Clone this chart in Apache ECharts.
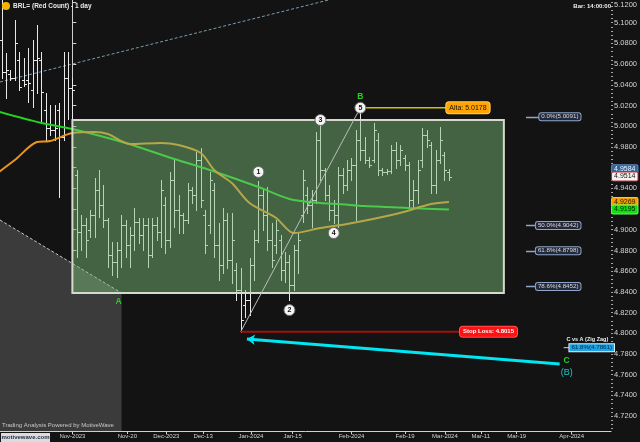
<!DOCTYPE html>
<html><head><meta charset="utf-8">
<script src="https://cdn.jsdelivr.net/npm/echarts@6/dist/echarts.min.js"></script>
<style>html,body{margin:0;padding:0;background:#131313;}#c{width:640px;height:442px;}</style>
</head><body><div id="c"></div>
<script>
// ---------------- DATA ----------------
const FIRST_BAR = -16; // bar index of first visible bar (index 0 = 1 Nov 2023)
const opens = [
5.0833,5.0524,5.0504,5.0466,5.0639,5.0446,5.0446,5.0350,5.0639,5.0639,
5.0156,4.9983,4.9963,5.0156,4.9896,5.0466,5.0369,4.9529,4.8978,4.9045,
4.8997,4.9142,4.9383,4.9239,4.9094,4.8756,4.8688,4.8804,4.9045,4.8852,
4.8949,4.9074,4.8949,4.9045,4.8756,4.9045,4.8978,4.9239,4.8900,4.9480,
4.9190,4.9142,4.9094,4.9383,4.9335,4.9673,4.9142,4.9045,4.9383,4.8852,
4.8659,4.9094,4.8707,4.8611,4.8418,4.8273,4.8321,4.8659,4.8900,4.9335,
4.9142,4.8900,4.8852,4.8900,4.8611,4.8688,4.8466,4.8804,4.9142,4.9335,
4.9239,4.9287,4.9867,4.9577,4.9335,4.9190,4.9142,4.9529,4.9432,4.9577,
4.9625,4.9867,4.9770,4.9673,4.9673,4.9867,4.9577,4.9557,4.9567,4.9770,
4.9673,4.9693,4.9625,4.9287,4.9383,4.9673,4.9915,4.9818,4.9432,4.9673,
4.9722,4.9560];
const highs = [
5.1296,5.0707,5.0543,5.1026,5.0717,5.0659,5.0755,5.0833,5.0977,5.0717,
5.0321,5.0205,5.0205,5.0224,5.0717,5.0717,5.0466,4.9577,4.9142,4.9113,
4.9190,4.9500,4.9577,4.9432,4.9113,4.8881,4.8881,4.9142,4.9094,4.9026,
4.9210,4.9113,4.9113,4.9113,4.9113,4.9123,4.9480,4.9316,4.9557,4.9673,
4.9335,4.9161,4.9451,4.9413,4.9751,4.9789,4.9190,4.9557,4.9451,4.9065,
4.9210,4.9161,4.9161,4.8678,4.8630,4.8418,4.8727,4.8997,4.9471,4.9383,
4.9413,4.9065,4.9094,4.8949,4.8785,4.8756,4.8852,4.8968,4.9577,4.9413,
4.9383,4.9944,5.0031,4.9596,4.9432,4.9287,4.9606,4.9596,4.9673,4.9693,
4.9963,5.0178,4.9896,4.9702,5.0031,4.9934,4.9596,4.9587,4.9818,4.9847,
4.9818,4.9722,4.9654,4.9480,4.9673,4.9983,4.9963,4.9847,4.9770,4.9992,
4.9751,4.9584];
const lows = [
5.0466,5.0272,5.0446,5.0446,5.0350,5.0388,5.0234,5.0185,5.0321,5.0040,
4.9867,4.9915,4.9867,4.9316,4.9867,5.0069,5.0060,4.8736,4.8804,4.8736,
4.8930,4.8930,4.9123,4.9026,4.8640,4.8563,4.8543,4.8640,4.8736,4.8640,
4.8804,4.8872,4.8804,4.8640,4.8736,4.8900,4.8833,4.8775,4.8833,4.9026,
4.8968,4.8968,4.9065,4.9258,4.9190,4.9219,4.8775,4.8968,4.8736,4.8514,
4.8582,4.8630,4.8485,4.8321,4.8015,4.8157,4.8176,4.8514,4.8881,4.8997,
4.8804,4.8640,4.8775,4.8514,4.8495,4.8321,4.8418,4.8582,4.9074,4.9161,
4.9026,4.9258,4.9480,4.9287,4.9094,4.9065,4.9026,4.9355,4.9383,4.9480,
4.9094,4.9673,4.9644,4.9606,4.9654,4.9529,4.9529,4.9538,4.9548,4.9596,
4.9625,4.9577,4.9219,4.9219,4.9258,4.9606,4.9799,4.9355,4.9355,4.9644,
4.9480,4.9480];
const closes = [
5.0524,5.0543,5.0466,5.0804,5.0379,5.0408,5.0417,5.0639,5.0659,5.0330,
4.9983,4.9963,4.9983,4.9896,5.0466,5.0369,5.0350,4.8978,4.9045,4.8900,
4.9142,4.9383,4.9239,4.9094,4.8756,4.8688,4.8804,4.9045,4.8852,4.8949,
4.9074,4.8949,4.9045,4.8756,4.9045,4.8978,4.9383,4.8900,4.9480,4.9190,
4.9142,4.9094,4.9383,4.9335,4.9673,4.9287,4.8852,4.9480,4.8852,4.8659,
4.9094,4.8707,4.8900,4.8418,4.8128,4.8321,4.8659,4.8900,4.9335,4.9142,
4.8900,4.8707,4.8997,4.8611,4.8688,4.8466,4.8804,4.8900,4.9480,4.9239,
4.9287,4.9867,4.9577,4.9335,4.9190,4.9142,4.9529,4.9432,4.9577,4.9625,
4.9867,4.9770,4.9673,4.9625,4.9963,4.9577,4.9557,4.9567,4.9770,4.9673,
4.9770,4.9625,4.9287,4.9383,4.9577,4.9915,4.9867,4.9432,4.9673,4.9867,
4.9577,4.9514];

// moving averages (bar index, value)
const maSlowIdx = [-17, -7, 0, 12, 23, 31, 42, 49, 56, 60, 66, 71, 76, 85];
const maSlow    = [5.0145, 5.0031, 4.9973, 4.9838, 4.9683, 4.9577, 4.9413, 4.9297, 4.9258, 4.9248, 4.9229, 4.9219, 4.9210, 4.9195];
const maFastIdx = [-17, -13, -8, -5, 0, 5, 8, 13, 20, 24, 29, 32, 36, 40, 46, 50, 56, 62, 73, 81, 85];
const maFast    = [4.9545, 4.9673, 4.9847, 4.9857, 4.9934, 4.9944, 4.9925, 4.9828, 4.9838, 4.9818, 4.9741, 4.9577, 4.9451, 4.9258, 4.9113, 4.8968, 4.9016, 4.9055, 4.9152, 4.9248, 4.9269];

// axis ticks
const xTickPos    = [0, 12.4, 21.2, 29.5, 40.3, 49.7, 63.0, 75.1, 84.1, 92.2, 100.3, 112.7];
const xTickLabels = ['Nov-2023','Nov-20','Dec-2023','Dec-13','Jan-2024','Jan-15','Feb-2024','Feb-19','Mar-2024','Mar-11','Mar-19','Apr-2024'];
const yTickValues = [4.72,4.74,4.76,4.78,4.80,4.82,4.84,4.86,4.88,4.90,4.92,4.94,4.96,4.98,5.00,5.02,5.04,5.06,5.08,5.10,5.12];

// wave count
const waveLabels = ['1','2','3','4','5'];
const waveIdx    = [42, 49, 56, 59, 65];
const wavePrice  = [4.9558, 4.8224, 5.0060, 4.8968, 5.0178];
const waveStartIdx = 38, waveStartPrice = 4.8015;

// range box, shaded zone, channel line
const boxIdx = [0, 97.4];         const boxPrice = [5.0060, 4.8389];
const zoneIdx = [-16.34, 11.1, 11.1, -16.34]; const zonePrice = [4.9094, 4.8389, 4.7056, 4.7056];
const channelIdx = [-16.34, 70];  const channelPrice = [5.0427, 5.1349];

// levels
const fibNames  = ['0.0%', '50.0%', '61.8%', '78.6%'];
const fibValues = [5.0091, 4.9042, 4.8798, 4.8452];
const stopLoss = 4.8015;
const alta = 5.0178;
const zigzagName = 'C vs A (Zig Zag)'; const zigzagPct = '61.8%'; const zigzagValue = 4.7861;
const arrowIdx = [110.0, 39.4];   const arrowPrice = [4.7703, 4.7944];
const axisTags = [4.9584, 4.9514, 4.9269, 4.9195];

// ---------------- CHART ----------------
const FONT = '"Liberation Sans", Arial, sans-serif';
const X_MIN = -16.34, X_MAX = 121.6, Y_MIN = 4.7056, Y_MAX = 5.1219;
const minorTicks = [];
for (let k = 0; k <= 103; k++) minorTicks.push(+(4.708 + k * 0.004).toFixed(3));

const bars = opens.map((o, k) => [k + FIRST_BAR, o, highs[k], lows[k], closes[k]]);

function ohlcItem(params, api) {
  const t = api.value(0);
  const pO = api.coord([t, api.value(1)]);
  const pH = api.coord([t, api.value(2)]);
  const pL = api.coord([t, api.value(3)]);
  const pC = api.coord([t, api.value(4)]);
  const x = Math.round(pO[0]) + 0.5;
  const yo = Math.round(pO[1]) + 0.5, yc = Math.round(pC[1]) + 0.5;
  const st = { stroke: '#e8e8e8', lineWidth: 1 };
  return { type: 'group', children: [
    { type: 'line', shape: { x1: x, y1: Math.round(pH[1]), x2: x, y2: Math.round(pL[1]) + 1 }, style: st },
    { type: 'line', shape: { x1: x - 2.5, y1: yo, x2: x, y2: yo }, style: st },
    { type: 'line', shape: { x1: x, y1: yc, x2: x + 2.5, y2: yc }, style: st }
  ]};
}

function lineSeries(data, color, width, z, type) {
  return { type: 'line', data: data, z: z, symbol: 'none', silent: true, clip: true,
    lineStyle: { color: color, width: width, type: type || 'solid' } };
}

const FIB_LINE_START = 102.4, FIB_LABEL_RIGHT = 114.7;
const STOP_LABEL_IDX = 87.5, ALTA_LABEL_IDX = 84.4;
const ZZ_LINE_START = 110.9, ZZ_LABEL_START = 112.2;

const option = {
  backgroundColor: '#131313',
  animation: false,
  grid: { left: 0, right: 26, top: 0, bottom: 11, containLabel: false },
  xAxis: {
    type: 'value', min: X_MIN, max: X_MAX, splitLine: { show: false },
    axisLine: { show: true, onZero: false, lineStyle: { color: '#cfcfcf', width: 1 } },
    axisTick: { show: true, customValues: xTickPos, length: 3, lineStyle: { color: '#cfcfcf' } },
    axisLabel: { show: true, customValues: xTickPos, margin: 2, color: '#d4d4d4', fontSize: 6, fontFamily: FONT,
      formatter: v => { let b = 0; xTickPos.forEach((p, k) => { if (Math.abs(p - v) < Math.abs(xTickPos[b] - v)) b = k; }); return xTickLabels[b]; } }
  },
  yAxis: [
    { type: 'value', position: 'right', min: Y_MIN, max: Y_MAX, splitLine: { show: false },
      axisLine: { show: true, lineStyle: { color: '#cfcfcf', width: 1 } },
      axisTick: { show: true, customValues: yTickValues, length: 4, lineStyle: { color: '#cfcfcf' } },
      axisLabel: { show: true, customValues: yTickValues, margin: 3, color: '#d4d4d4', fontSize: 7.5, fontFamily: FONT,
        formatter: v => Math.abs(v - 5.12) < 1e-6 ? '{top|' + v.toFixed(4) + '}' : v.toFixed(4),
        rich: { top: { padding: [6, 0, 0, 0], color: '#d4d4d4', fontSize: 7.5, fontFamily: FONT } } } },
    { type: 'value', position: 'right', min: Y_MIN, max: Y_MAX, splitLine: { show: false },
      axisLine: { show: false },
      axisTick: { show: true, customValues: minorTicks, length: 2, lineStyle: { color: '#a8a8a8' } },
      axisLabel: { show: false } }
  ],
  graphic: [
    { type: 'circle', shape: { cx: 6, cy: 6, r: 4 }, style: { fill: '#f5b400' }, z: 100 },
    { type: 'text', x: 13, y: 6, z: 100, style: { text: 'BRL= (Red Count) - 1 day', fill: '#e8e8e8', font: 'bold 6.5px ' + FONT, verticalAlign: 'middle', textVerticalAlign: 'middle' } },
    { type: 'text', x: 611, y: 6, z: 100, style: { text: 'Bar: 14:00:00', fill: '#f0f0f0', font: 'bold 6px ' + FONT, align: 'right', textAlign: 'right', verticalAlign: 'middle', textVerticalAlign: 'middle' } },
    { type: 'text', x: 2, y: 425, z: 100, style: { text: 'Trading Analysis Powered by MotiveWave', fill: '#c8c8c8', font: '6px ' + FONT, verticalAlign: 'middle', textVerticalAlign: 'middle' } },
    { type: 'rect', shape: { x: 1, y: 433, width: 49, height: 9 }, style: { fill: '#dcdcdc' }, z: 100 },
    { type: 'text', x: 25.5, y: 437.5, z: 101, style: { text: 'motivewave.com', fill: '#1c2c48', font: 'bold 6px ' + FONT, align: 'center', textAlign: 'center', verticalAlign: 'middle', textVerticalAlign: 'middle' } }
  ],
  series: [
    // shaded zone
    { type: 'custom', z: 1, silent: true, clip: true, data: [[zoneIdx[0], zonePrice[0]]],
      renderItem: (p, api) => {
        const pts = zoneIdx.map((t, k) => api.coord([t, zonePrice[k]]));
        return { type: 'group', children: [
          { type: 'polygon', shape: { points: pts }, style: { fill: '#3b3b3b' } },
          { type: 'line', shape: { x1: pts[0][0], y1: pts[0][1], x2: pts[1][0], y2: pts[1][1] }, style: { stroke: '#c4c4c4', lineWidth: 1, lineDash: [3, 2] } }
        ]};
      } },
    lineSeries(channelIdx.map((t, k) => [t, channelPrice[k]]), '#7d9cac', 1, 1, [3, 2]),
    // OHLC bars
    { type: 'custom', z: 2, silent: true, clip: true, data: bars, renderItem: ohlcItem, encode: { x: 0, y: [1, 2, 3, 4] } },
    // moving averages
    Object.assign(lineSeries(maSlowIdx.map((t, k) => [t, maSlow[k]]), '#22d422', 2, 3), { smooth: 0.3 }),
    Object.assign(lineSeries(maFastIdx.map((t, k) => [t, maFast[k]]), '#ea941e', 2, 3), { smooth: 0.3 }),
    // range box overlay
    { type: 'custom', z: 4, silent: true, clip: false, data: [[boxIdx[0], boxPrice[0]]],
      renderItem: (p, api) => {
        const a = api.coord([boxIdx[0], boxPrice[0]]), b = api.coord([boxIdx[1], boxPrice[1]]);
        return { type: 'rect', shape: { x: a[0], y: a[1], width: b[0] - a[0], height: b[1] - a[1] },
          style: { fill: 'rgba(122,190,122,0.47)', stroke: '#d6dacd', lineWidth: 2 } };
      } },
    // wave line, stop-loss line, alta line
    lineSeries([[waveStartIdx, waveStartPrice], [waveIdx[4], wavePrice[4]]], '#bdbdbd', 1, 5),
    lineSeries([[waveStartIdx, stopLoss], [STOP_LABEL_IDX, stopLoss]], '#a31010', 2, 5),
    lineSeries([[waveIdx[4], alta], [ALTA_LABEL_IDX, alta]], '#cfc300', 1.5, 5),
    // cyan arrow
    { type: 'lines', coordinateSystem: 'cartesian2d', z: 6, silent: true, symbol: ['none', 'arrow'], symbolSize: 8,
      lineStyle: { color: '#00e6f2', width: 3, opacity: 1 },
      data: [{ coords: [[arrowIdx[0], arrowPrice[0]], [arrowIdx[1], arrowPrice[1]]] }] },
    // fib levels
    { type: 'custom', z: 6, silent: true, clip: false, data: fibValues.map((v, k) => [FIB_LINE_START, v, k]),
      renderItem: (p, api) => {
        const k = api.value(2), v = api.value(1);
        const a = api.coord([FIB_LINE_START, v]), b = api.coord([FIB_LABEL_RIGHT, v]);
        return { type: 'group', children: [
          { type: 'line', shape: { x1: a[0], y1: Math.round(a[1]) + 0.5, x2: b[0] - 20, y2: Math.round(a[1]) + 0.5 }, style: { stroke: '#8ea6c8', lineWidth: 1.5 } },
          { type: 'text', x: b[0], y: a[1], style: { text: fibNames[k] + '(' + fibValues[k].toFixed(4) + ')', fill: '#dcdcdc',
            fontSize: 6.2, fontFamily: FONT, align: 'right', verticalAlign: 'middle', backgroundColor: '#23283a',
            borderColor: '#8ea6c8', borderWidth: 1, borderRadius: 2, padding: [1, 2, 0, 2] } }
        ]};
      } },
    // C vs A zig zag target
    { type: 'custom', z: 6, silent: true, clip: false, data: [[ZZ_LABEL_START, zigzagValue]],
      renderItem: (p, api) => {
        const a = api.coord([ZZ_LINE_START, zigzagValue]), b = api.coord([ZZ_LABEL_START, zigzagValue]);
        return { type: 'group', children: [
          { type: 'line', shape: { x1: a[0], y1: a[1], x2: b[0], y2: b[1] }, style: { stroke: '#cfcfcf', lineWidth: 1 } },
          { type: 'text', x: b[0] - 3, y: b[1] - 8, style: { text: zigzagName, fill: '#f0f0f0', fontSize: 5.5, fontWeight: 'bold', fontFamily: FONT, align: 'left', verticalAlign: 'middle' } },
          { type: 'text', x: b[0], y: b[1], style: { text: zigzagPct + '(' + zigzagValue.toFixed(4) + ')', fill: '#0a2a40', fontSize: 6.2, fontFamily: FONT,
            align: 'left', verticalAlign: 'middle', backgroundColor: '#1ea4e6', borderColor: '#d8f0ff', borderWidth: 1, padding: [1, 2, 0, 2] } }
        ]};
      } },
    // wave circles
    { type: 'scatter', z: 8, silent: true, symbol: 'circle', symbolSize: 11,
      itemStyle: { color: '#f4f4f4', borderColor: '#6a6a6a', borderWidth: 1, opacity: 1 },
      label: { show: true, position: 'inside', formatter: p => waveLabels[p.dataIndex], color: '#111', fontSize: 7, fontWeight: 'bold', fontFamily: FONT },
      data: waveIdx.map((t, k) => [t, wavePrice[k]]) },
    // wave letters
    { type: 'custom', z: 8, silent: true, clip: false,
      data: [[zoneIdx[1], zonePrice[1], 0], [waveIdx[4], wavePrice[4], 1], [arrowIdx[0], arrowPrice[0], 2], [arrowIdx[0], arrowPrice[0], 3]],
      renderItem: (p, api) => {
        const k = api.value(2);
        const c = api.coord([api.value(0), api.value(1)]);
        const txt = ['A', 'B', 'C', '(B)'][k];
        const col = ['#24d024', '#24d024', '#24d024', '#22c4c4'][k];
        const off = [[-3, 9], [0, -11], [7, -3], [7, 9]][k];
        return { type: 'text', x: c[0] + off[0], y: c[1] + off[1],
          style: { text: txt, fill: col, fontSize: k === 3 ? 9 : 8.5, fontWeight: k === 3 ? 'normal' : 'bold', fontFamily: FONT, align: 'center', verticalAlign: 'middle' } };
      } },
    // stop loss / alta tags
    { type: 'custom', z: 9, silent: true, clip: false,
      data: [[STOP_LABEL_IDX, stopLoss, 0], [ALTA_LABEL_IDX, alta, 1]],
      renderItem: (p, api) => {
        const k = api.value(2);
        const c = api.coord([api.value(0), api.value(1)]);
        const isStop = k === 0;
        return { type: 'text', x: c[0], y: c[1],
          style: { text: (isStop ? 'Stop Loss: ' : 'Alta: ') + api.value(1).toFixed(4),
            fill: isStop ? '#ffffff' : '#111111', fontSize: isStop ? 6 : 7, fontWeight: isStop ? 'bold' : 'normal', fontFamily: FONT,
            align: 'left', verticalAlign: 'middle', backgroundColor: isStop ? '#ff1212' : '#ffa400',
            borderColor: isStop ? '#ff5050' : '#ffd060', borderWidth: 1, borderRadius: 3, padding: [2, 3, 2, 3] } };
      } },
    // price tags on the axis
    { type: 'custom', z: 10, silent: true, clip: false,
      data: axisTags.map((v, k) => [X_MAX, v, k]),
      renderItem: (p, api) => {
        const k = api.value(2);
        const c = api.coord([X_MAX, api.value(1)]);
        const bg = ['#2f6496', '#f4f4f4', '#f0a000', '#12e012'][k];
        const fg = ['#eef4ff', '#151515', '#2a1a00', '#062006'][k];
        const bd = ['#5a8ac0', '#c03030', '#ffc040', '#60ff60'][k];
        return { type: 'text', x: c[0] + 1, y: c[1],
          style: { text: api.value(1).toFixed(4), fill: fg, fontSize: 7, fontFamily: FONT, align: 'left', verticalAlign: 'middle',
            backgroundColor: bg, borderColor: bd, borderWidth: 1, borderRadius: 1, padding: [1, 2, 0, 2] } };
      } }
  ]
};

const chart = echarts.init(document.getElementById('c'));
chart.setOption(option);
</script>
</body></html>
